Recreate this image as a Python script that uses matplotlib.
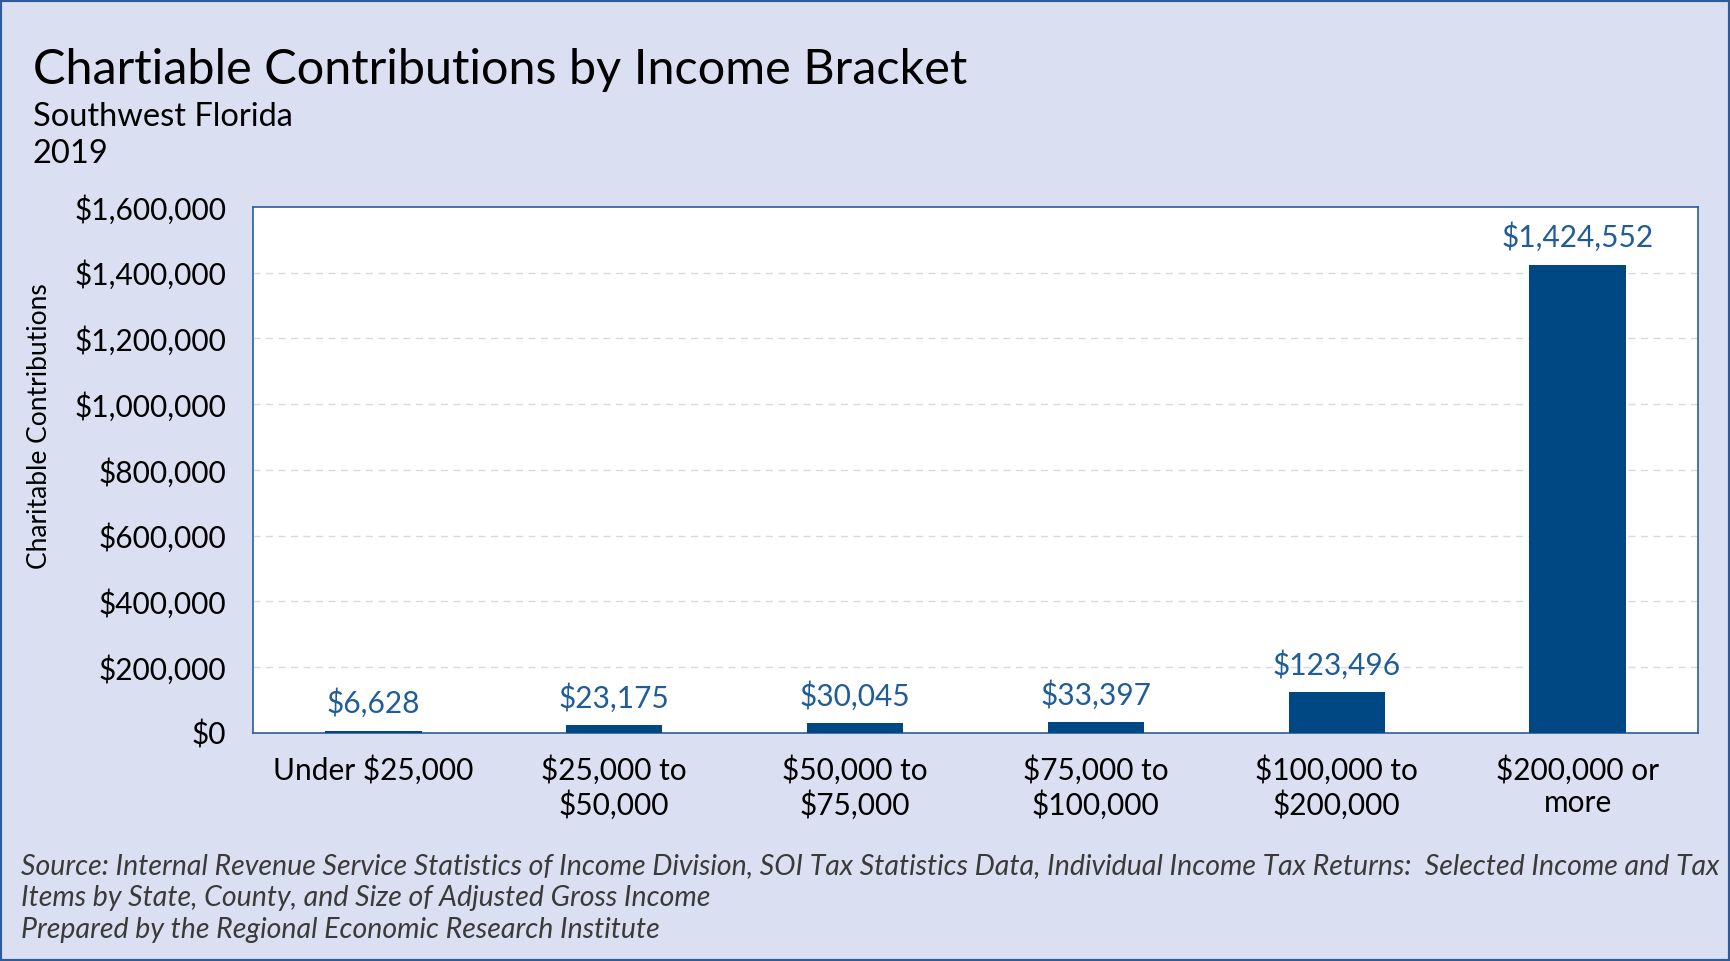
import matplotlib.pyplot as plt
from matplotlib.patches import Rectangle

# data
brackets = ["Under $25,000", "$25,000 to\n$50,000", "$50,000 to\n$75,000",
            "$75,000 to\n$100,000", "$100,000 to\n$200,000", "$200,000 or\nmore"]
contributions = [6628, 23175, 30045, 33397, 123496, 1424552]
yticks = [0, 200000, 400000, 600000, 800000, 1000000, 1200000, 1400000, 1600000]
source_lines = [
    "Source: Internal Revenue Service Statistics of Income Division, SOI Tax Statistics Data, "
    "Individual Income Tax Returns:  Selected Income and Tax",
    "Items by State, County, and Size of Adjusted Gross Income",
    "Prepared by the Regional Economic Research Institute",
]

bg = "#DAE0F2"
bar_color = "#004884"
label_color = "#1F5C99"
edge = "#2F5B96"

plt.rcParams['font.family'] = ['Lato', 'DejaVu Sans']

fig = plt.figure(figsize=(17.3, 9.61), dpi=100, facecolor=bg)
ax = fig.add_axes([0.1462, 0.2373, 0.8353, 0.5473])
ax.set_facecolor("white")

x = range(len(brackets))
bars = ax.bar(x, contributions, width=0.4, color=bar_color, zorder=3)
for b, v in zip(bars, contributions):
    ax.annotate("${:,}".format(v), (b.get_x() + b.get_width() / 2, v),
                xytext=(0, 9), textcoords="offset points", ha="center", va="bottom",
                fontsize=21.5, color=label_color)

ax.set_xlim(-0.5, len(brackets) - 0.5)
ax.set_ylim(0, 1600000)
ax.set_yticks(yticks)
ax.set_yticklabels(["${:,}".format(t) for t in yticks], fontsize=21.5)
ax.set_xticks(list(x))
ax.set_xticklabels(brackets, fontsize=21.5, linespacing=1.2)
ax.tick_params(length=0)
ax.tick_params(axis="x", pad=16)
ax.tick_params(axis="y", pad=19)
for t in yticks[1:-1]:
    ax.axhline(t, color="#D9D9D9", lw=1, ls=(0, (5, 4)), zorder=1)
for s in ax.spines.values():
    s.set_color(edge)
    s.set_linewidth(1.2)

fig.text(0.023, 0.557, "Charitable Contributions", rotation=90, fontsize=19,
         ha="center", va="center")

fig.text(0.019, 0.913, "Chartiable Contributions by Income Bracket", fontsize=35, va="baseline")
fig.text(0.019, 0.869, "Southwest Florida", fontsize=23.5, va="baseline")
fig.text(0.019, 0.830, "2019", fontsize=23.5, va="baseline")

for i, line in enumerate(source_lines):
    fig.text(0.012, 0.0989 - i * 0.0333, line, fontsize=20.5, style="italic",
             color="#3A3A3A", va="center")

fig.patches.append(Rectangle((0, 0), 1, 1, transform=fig.transFigure, fill=False,
                             edgecolor=edge, lw=3, zorder=10))

fig.savefig("out.png", dpi=100, facecolor=bg)
